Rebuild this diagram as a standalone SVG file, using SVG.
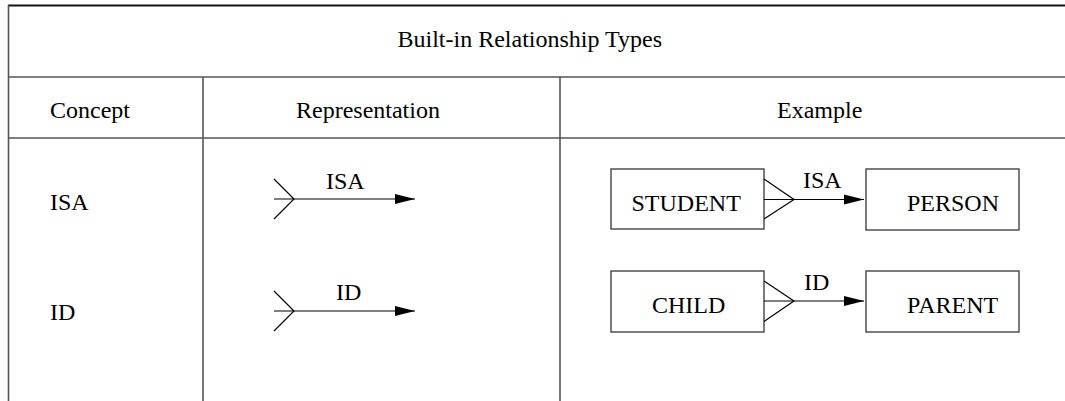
<svg xmlns="http://www.w3.org/2000/svg" width="1065" height="401" viewBox="0 0 1065 401">
  <style>
    text { font-family: "Liberation Serif", "Times New Roman", serif; font-size: 24px; fill: #000; }
    .grid { stroke: #555; stroke-width: 1.6; fill: none; }
    .edge { stroke: #000; stroke-width: 1.2; fill: none; }
    .box { stroke: #444; stroke-width: 1.4; fill: #fff; }
  </style>
  <defs>
    <marker id="arrow" markerUnits="userSpaceOnUse" markerWidth="20" markerHeight="12" refX="20" refY="6" orient="auto">
      <path d="M0,1 L20,6 L0,11 Z" fill="#000"/>
    </marker>
  </defs>
  <rect width="1065" height="401" fill="#fff"/>

  <!-- table frame -->
  <g id="table">
    <line x1="8" y1="5.5" x2="1065" y2="5.5" stroke="#111" stroke-width="1.8"/>
    <line class="grid" x1="8.5" y1="5" x2="8.5" y2="401"/>
    <line class="grid" x1="8" y1="77" x2="1065" y2="77"/>
    <line class="grid" x1="8" y1="138" x2="1065" y2="138"/>
    <line class="grid" x1="203" y1="77" x2="203" y2="401"/>
    <line class="grid" x1="560" y1="77" x2="560" y2="401"/>
  </g>

  <!-- headings -->
  <g id="headings">
    <text x="397.5" y="47">Built-in Relationship Types</text>
    <text x="50" y="118">Concept</text>
    <text x="296" y="118">Representation</text>
    <text x="777" y="118">Example</text>
  </g>

  <!-- concept column -->
  <g id="concepts">
    <text x="50" y="210">ISA</text>
    <text x="50" y="320">ID</text>
  </g>

  <!-- example entities -->
  <g id="student">
    <rect class="box" x="611" y="169" width="153" height="60"/>
    <text x="631.5" y="210.5">STUDENT</text>
  </g>
  <g id="person">
    <rect class="box" x="866" y="169" width="153" height="61"/>
    <text x="907" y="210.5">PERSON</text>
  </g>
  <g id="child">
    <rect class="box" x="611" y="271" width="153" height="61"/>
    <text x="652" y="312.5">CHILD</text>
  </g>
  <g id="parent">
    <rect class="box" x="866" y="271" width="153" height="61"/>
    <text x="907" y="312.5">PARENT</text>
  </g>

  <!-- connectors -->
  <g id="connectors">
    <!-- representation: ISA -->
    <path class="edge" d="M274,179 L294,199 L274,219"/>
    <line class="edge" x1="274" y1="199" x2="415" y2="199" marker-end="url(#arrow)"/>
    <text x="326" y="189">ISA</text>
    <!-- representation: ID -->
    <path class="edge" d="M274,291 L294,311 L274,331"/>
    <line class="edge" x1="274" y1="311" x2="415" y2="311" marker-end="url(#arrow)"/>
    <text x="336" y="300">ID</text>

    <!-- STUDENT ISA PERSON -->
    <path class="edge" d="M764,179 L794,199.5 L764,219"/>
    <line class="edge" x1="764" y1="199.5" x2="864" y2="199.5" marker-end="url(#arrow)"/>
    <text x="803" y="188">ISA</text>
    <!-- CHILD ID PARENT -->
    <path class="edge" d="M764,281 L794,301 L764,321.5"/>
    <line class="edge" x1="764" y1="301" x2="864" y2="301" marker-end="url(#arrow)"/>
    <text x="804" y="290">ID</text>
  </g>
</svg>
